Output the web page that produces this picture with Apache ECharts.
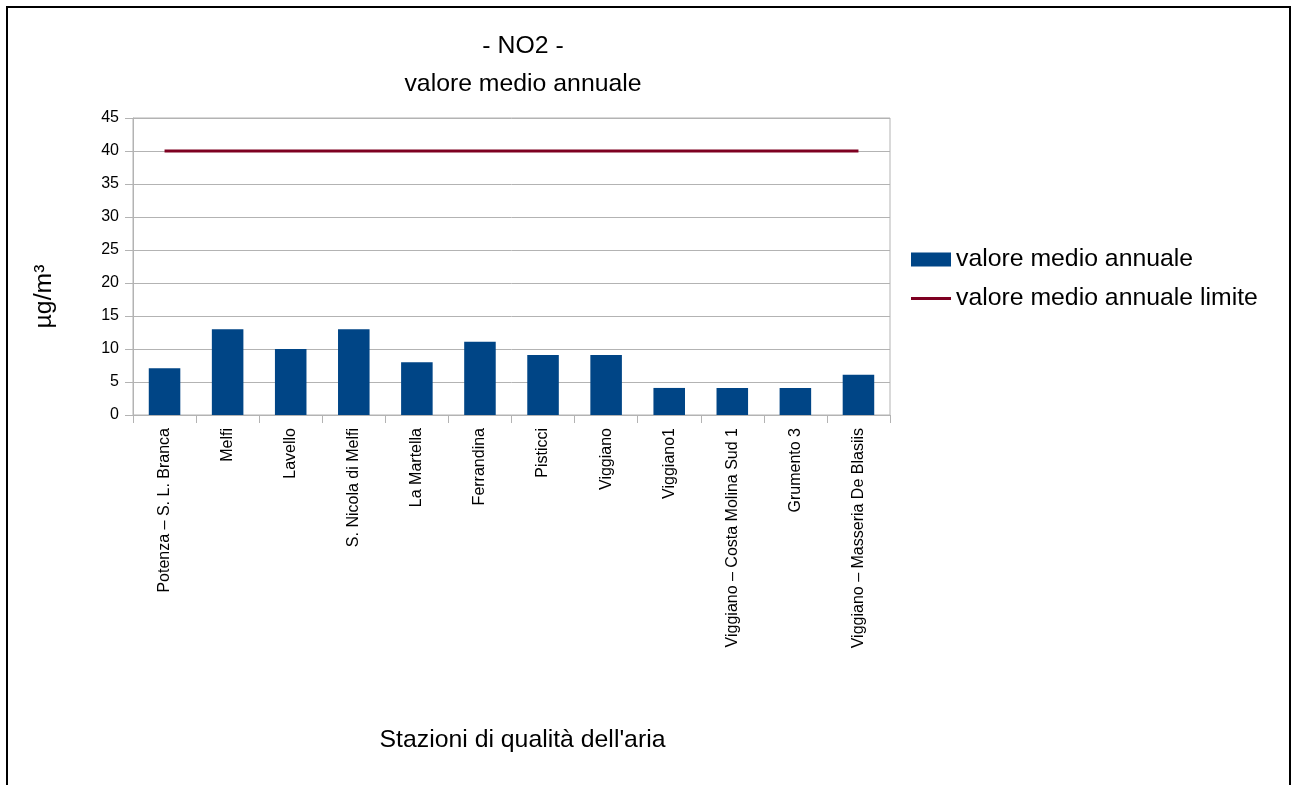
<!DOCTYPE html>
<html>
<head>
<meta charset="utf-8">
<script src="https://cdn.jsdelivr.net/npm/echarts@6/dist/echarts.min.js"></script>
<style>
html,body{margin:0;padding:0;background:#fff;}
#chart{width:1292px;height:785px;}
</style>
</head>
<body>
<div id="chart"></div>
<script>
const categories = ["Potenza – S. L. Branca","Melfi","Lavello","S. Nicola di Melfi","La Martella","Ferrandina","Pisticci","Viggiano","Viggiano1","Viggiano – Costa Molina Sud 1","Grumento 3","Viggiano – Masseria De Blasiis"];
const annualMean = [7.1, 13, 10, 13, 8, 11.1, 9.1, 9.1, 4.1, 4.1, 4.1, 6.1];
const annualLimit = [40, 40, 40, 40, 40, 40, 40, 40, 40, 40, 40, 40];
const seriesNames = ["valore medio annuale", "valore medio annuale limite"];
const titleLines = ["- NO2 -", "valore medio annuale"];
const yAxisName = "µg/m³";
const xAxisName = "Stazioni di qualità dell'aria";

const FONT = "'Liberation Sans', Arial, sans-serif";
const BIG = 24.8;
const chart = echarts.init(document.getElementById('chart'), null, {renderer: 'canvas'});
chart.setOption({
  backgroundColor: '#ffffff',
  animation: false,
  textStyle: {fontFamily: FONT, color: '#000'},
  title: [
    {text: titleLines[0], left: 523, top: 34, textAlign: 'center', padding: 0,
     textStyle: {fontFamily: FONT, fontSize: BIG, fontWeight: 'normal', color: '#000'}},
    {text: titleLines[1], left: 523, top: 72, textAlign: 'center', padding: 0,
     textStyle: {fontFamily: FONT, fontSize: BIG, fontWeight: 'normal', color: '#000'}}
  ],
  graphic: [{
    type: 'rect', silent: true, z: 100,
    shape: {x: 7, y: 7, width: 1283, height: 800},
    style: {fill: 'none', stroke: '#000', lineWidth: 2}
  }],
  legend: {
    orient: 'vertical', left: 911, top: 247, itemGap: 14,
    itemWidth: 40, itemHeight: 14, padding: 0, symbolKeepAspect: true,
    textStyle: {fontFamily: FONT, fontSize: BIG, color: '#000'},
    data: [
      {name: seriesNames[0], icon: 'rect'},
      {name: seriesNames[1], icon: 'path://M0,0 L40,0 L40,3 L0,3 Z'}
    ]
  },
  grid: {left: 133, right: 402, top: 118, bottom: 370, show: true,
    borderColor: '#b3b3b3', borderWidth: 1, containLabel: false},
  xAxis: {
    type: 'category', data: categories, boundaryGap: true,
    name: xAxisName, nameLocation: 'middle', nameGap: 313,
    nameTextStyle: {fontFamily: FONT, fontSize: BIG, color: '#000', padding: [0, 0, 0, 22]},
    axisLine: {show: true, lineStyle: {color: '#b3b3b3', width: 1}},
    axisTick: {show: true, length: 8, alignWithLabel: false, lineStyle: {color: '#b3b3b3'}},
    axisLabel: {rotate: 90, interval: 0, margin: 13, fontFamily: FONT, fontSize: 16, color: '#000'},
    splitLine: {show: false}
  },
  yAxis: {
    type: 'value', min: 0, max: 45, interval: 5,
    name: yAxisName, nameLocation: 'middle', nameGap: 76, nameRotate: 90,
    nameTextStyle: {fontFamily: FONT, fontSize: BIG, color: '#000', padding: [0, 60, 0, 0]},
    axisLine: {show: true, lineStyle: {color: '#b3b3b3', width: 1}},
    axisTick: {show: true, length: 8, lineStyle: {color: '#b3b3b3'}},
    axisLabel: {margin: 14, fontFamily: FONT, fontSize: 16, color: '#000', padding: [4, 0, 0, 0]},
    splitLine: {show: true, lineStyle: {color: '#b3b3b3', width: 1}}
  },
  series: [
    {name: seriesNames[0], type: 'bar', data: annualMean, barWidth: '50%',
     itemStyle: {color: '#004586'}},
    {name: seriesNames[1], type: 'line', data: annualLimit, symbol: 'none',
     lineStyle: {color: '#7e0021', width: 3}, itemStyle: {color: '#7e0021'}}
  ]
});
</script>
</body>
</html>
